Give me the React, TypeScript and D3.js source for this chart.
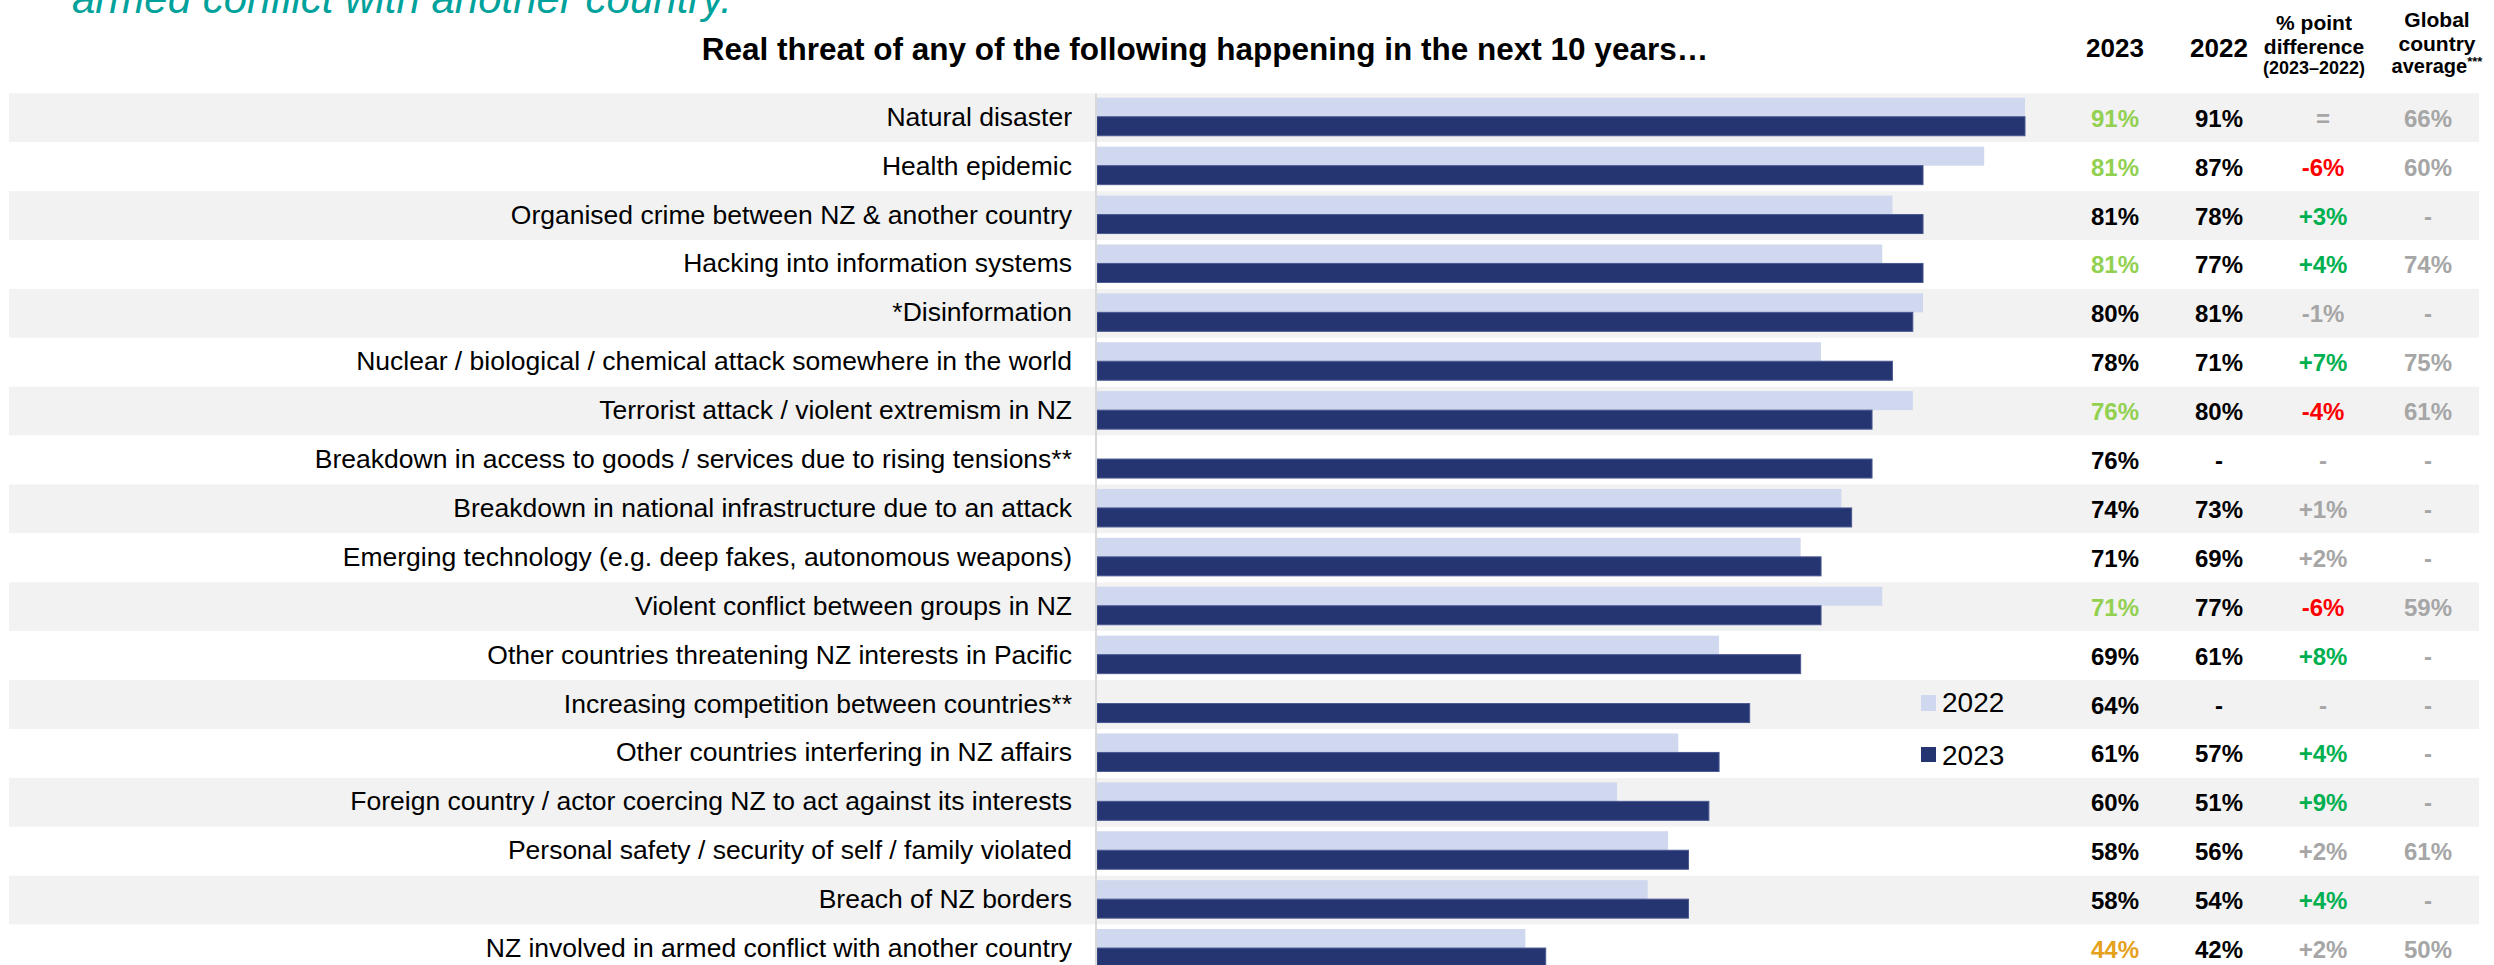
import React, { useEffect } from "react";
import * as d3 from "d3";

const categories: string[] = [
  "Natural disaster",
  "Health epidemic",
  "Organised crime between NZ & another country",
  "Hacking into information systems",
  "*Disinformation",
  "Nuclear / biological / chemical attack somewhere in the world",
  "Terrorist attack / violent extremism in NZ",
  "Breakdown in access to goods / services due to rising tensions**",
  "Breakdown in national infrastructure due to an attack",
  "Emerging technology (e.g. deep fakes, autonomous weapons)",
  "Violent conflict between groups in NZ",
  "Other countries threatening NZ interests in Pacific",
  "Increasing competition between countries**",
  "Other countries interfering in NZ affairs",
  "Foreign country / actor coercing NZ to act against its interests",
  "Personal safety / security of self / family violated",
  "Breach of NZ borders",
  "NZ involved in armed conflict with another country",
];

const values2023: number[] = [91, 81, 81, 81, 80, 78, 76, 76, 74, 71, 71, 69, 64, 61, 60, 58, 58, 44];
const values2022: (number | null)[] = [91, 87, 78, 77, 81, 71, 80, null, 73, 69, 77, 61, null, 57, 51, 56, 54, 42];
// comparison of 2023 value vs global average: "hi" = higher, "lo" = lower, "" = none
const vsGlobal: string[] = ["hi", "hi", "", "hi", "", "", "hi", "", "", "", "hi", "", "", "", "", "", "", "lo"];
const diffLabels: string[] = ["=", "-6%", "+3%", "+4%", "-1%", "+7%", "-4%", "-", "+1%", "+2%", "-6%", "+8%", "-", "+4%", "+9%", "+2%", "+4%", "+2%"];
// "up" significant increase, "down" significant decrease, "ns" not significant
const diffSig: string[] = ["ns", "down", "up", "up", "ns", "up", "down", "ns", "ns", "ns", "down", "up", "ns", "up", "up", "ns", "up", "ns"];
const globalAvg: string[] = ["66%", "60%", "-", "74%", "-", "75%", "61%", "-", "-", "-", "59%", "-", "-", "-", "-", "61%", "-", "50%"];
const seriesNames: string[] = ["2022", "2023"];

const W = 2494;
const H = 965;
const FONT = "'Liberation Sans', Arial, Helvetica, sans-serif";
const C_LIGHT = "#D0D8EF";
const C_DARK = "#253572";
const GREY = "#A6A6A6";

export default function App() {
  useEffect(() => {
    document.body.style.margin = "0";
  }, []);

  const x = d3.scaleLinear().domain([0, 91]).range([1097, 2025]);
  const rowH = 48.9;
  const top = 93.3;
  const y = d3
    .scaleBand<string>()
    .domain(categories)
    .range([top, top + rowH * categories.length])
    .padding(0);
  const barH = 19;

  const colX = [2115, 2219, 2323, 2428];

  const c2023 = (i: number) => (vsGlobal[i] === "hi" ? "#92D050" : vsGlobal[i] === "lo" ? "#E5A11C" : "#000000");
  const cDiff = (i: number) => (diffSig[i] === "up" ? "#00B050" : diffSig[i] === "down" ? "#FF0000" : GREY);

  return (
    <svg
      width={W}
      height={H}
      style={{ position: "absolute", left: 0, top: 0, display: "block", background: "#fff" }}
      fontFamily={FONT}
    >
      {/* teal heading (cut off at top) */}
      <text x={72} y={13} fontSize={42} fontStyle="italic" fill="#00A29B">
        armed conflict with another country.
      </text>

      {/* chart title */}
      <text x={1205} y={60} fontSize={31.5} fontWeight="bold" textAnchor="middle" fill="#000">
        Real threat of any of the following happening in the next 10 years…
      </text>

      {/* column headers */}
      <text x={colX[0]} y={57} fontSize={26} fontWeight="bold" textAnchor="middle">2023</text>
      <text x={colX[1]} y={57} fontSize={26} fontWeight="bold" textAnchor="middle">2022</text>
      <text x={2314} y={30} fontSize={21} fontWeight="bold" textAnchor="middle">% point</text>
      <text x={2314} y={54} fontSize={21} fontWeight="bold" textAnchor="middle">difference</text>
      <text x={2314} y={74} fontSize={18} fontWeight="bold" textAnchor="middle">(2023–2022)</text>
      <text x={2437} y={27} fontSize={21} fontWeight="bold" textAnchor="middle">Global</text>
      <text x={2437} y={51} fontSize={21} fontWeight="bold" textAnchor="middle">country</text>
      <text x={2437} y={73} fontSize={20} fontWeight="bold" textAnchor="middle">
        average<tspan fontSize={13} dy={-7}>***</tspan>
      </text>

      {/* row bands */}
      {categories.map((c, i) => (
        <rect
          key={"band" + i}
          x={9}
          y={y(c)!}
          width={2479 - 9}
          height={y.bandwidth()}
          fill={i % 2 === 0 ? "#F2F2F2" : "#FFFFFF"}
        />
      ))}

      {/* bars */}
      {categories.map((c, i) => {
        const cy = y(c)! + y.bandwidth() / 2;
        const v22 = values2022[i];
        return (
          <g key={"bars" + i}>
            {v22 !== null && (
              <rect x={x(0)} y={cy - 20} width={x(v22) - x(0)} height={barH} fill={C_LIGHT} />
            )}
            <rect
              x={x(0)}
              y={cy - 1}
              width={x(values2023[i]) - x(0)}
              height={barH}
              fill={C_DARK}
              stroke="#4A5891"
              strokeWidth={1}
            />
          </g>
        );
      })}

      {/* axis line */}
      <line x1={1096} x2={1096} y1={top} y2={H} stroke="#D9D9D9" strokeWidth={2} />

      {/* category labels */}
      {categories.map((c, i) => (
        <text
          key={"lab" + i}
          x={1072}
          y={y(c)! + y.bandwidth() / 2 + 8}
          fontSize={26.5}
          textAnchor="end"
          fill="#000"
        >
          {c}
        </text>
      ))}

      {/* table values */}
      {categories.map((c, i) => {
        const by = y(c)! + y.bandwidth() / 2 + 9;
        const v22 = values2022[i];
        return (
          <g key={"vals" + i} fontSize={24} fontWeight="bold" textAnchor="middle">
            <text x={colX[0]} y={by} fill={c2023(i)}>{values2023[i]}%</text>
            <text x={colX[1]} y={by} fill="#000">{v22 === null ? "-" : v22 + "%"}</text>
            <text x={colX[2]} y={by} fill={cDiff(i)}>{diffLabels[i]}</text>
            <text x={colX[3]} y={by} fill={GREY}>{globalAvg[i]}</text>
          </g>
        );
      })}

      {/* legend */}
      <rect x={1921} y={695} width={15} height={16} fill={C_LIGHT} />
      <text x={1942} y={712} fontSize={28} fill="#000">{seriesNames[0]}</text>
      <rect x={1921} y={747} width={15} height={15} fill={C_DARK} />
      <text x={1942} y={765} fontSize={28} fill="#000">{seriesNames[1]}</text>
    </svg>
  );
}
